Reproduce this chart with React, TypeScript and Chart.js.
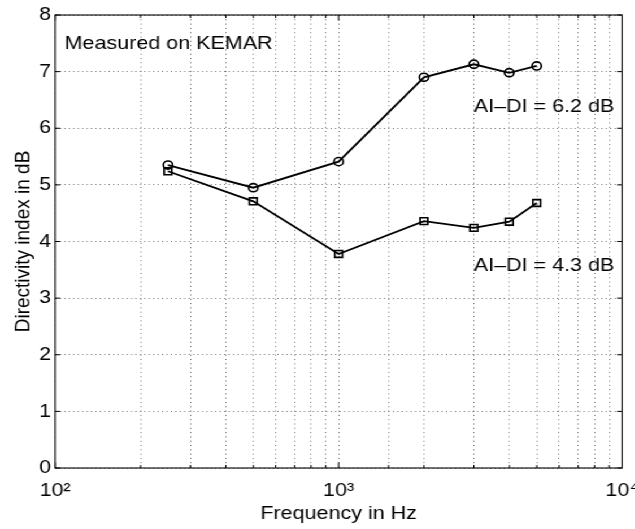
import React, { useEffect, useRef } from 'react';
import { Chart, registerables } from 'chart.js';

Chart.register(...registerables);

// ---- data ----
const frequencies = [250, 500, 1000, 2000, 3000, 4000, 5000];
const diCircle = [5.35, 4.95, 5.41, 6.9, 7.13, 6.98, 7.1];
const diSquare = [5.24, 4.71, 3.78, 4.36, 4.24, 4.35, 4.68];
const xTickLabels: Record<number, string> = { 100: '10²', 1000: '10³', 10000: '10⁴' };
const yMin = 0;
const yMax = 8;
const xMin = 100;
const xMax = 10000;
const annotationTexts = ['Measured on KEMAR', 'AI–DI = 6.2 dB', 'AI–DI = 4.3 dB'];
const annotationX = [108, 3000, 3000];
const annotationY = [7.5, 6.38, 3.57];

// ---- layout ----
const STRETCH = 1.13;
const W = 635 / STRETCH;
const H = 529;
const FONT = '"Liberation Sans", Arial, Helvetica, sans-serif';
const FS = 19;

const framePlugin = {
  id: 'matlabFrame',
  afterDraw(chart: any) {
    const { ctx, chartArea, scales } = chart;
    const { left, right, top, bottom } = chartArea;
    const xs = scales.x;
    const ys = scales.y;
    ctx.save();
    ctx.strokeStyle = '#000';
    ctx.lineWidth = 1;
    // inward ticks
    ctx.beginPath();
    xs.ticks.forEach((t: any) => {
      const v = t.value;
      const px = xs.getPixelForValue(v);
      const lg = Math.log10(v);
      const major = Math.abs(lg - Math.round(lg)) < 1e-6;
      const len = major ? 5.5 : 3;
      ctx.moveTo(px, bottom);
      ctx.lineTo(px, bottom - len);
      ctx.moveTo(px, top);
      ctx.lineTo(px, top + len);
    });
    ys.ticks.forEach((t: any) => {
      const py = ys.getPixelForValue(t.value);
      const len = 5 / STRETCH;
      ctx.moveTo(left, py);
      ctx.lineTo(left + len, py);
      ctx.moveTo(right, py);
      ctx.lineTo(right - len, py);
    });
    ctx.stroke();
    ctx.lineWidth = 1.1;
    ctx.strokeRect(left, top, right - left, bottom - top);
    // annotations
    ctx.fillStyle = '#000';
    ctx.font = `${FS}px ${FONT}`;
    ctx.textAlign = 'left';
    ctx.textBaseline = 'middle';
    annotationTexts.forEach((txt, i) => {
      ctx.fillText(txt, xs.getPixelForValue(annotationX[i]), ys.getPixelForValue(annotationY[i]));
    });
    ctx.restore();
  },
};

export default function App() {
  const ref = useRef<HTMLCanvasElement | null>(null);

  useEffect(() => {
    if (!ref.current) return;
    const markerCommon = {
      borderColor: '#000',
      borderWidth: 1.8,
      pointBorderColor: '#000',
      pointBackgroundColor: 'rgba(0,0,0,0)',
      pointBorderWidth: 1.6,
      tension: 0,
      fill: false,
    };
    const chart = new Chart(ref.current, {
      type: 'line',
      data: {
        datasets: [
          {
            ...markerCommon,
            label: 'circle',
            data: frequencies.map((f, i) => ({ x: f, y: diCircle[i] })),
            pointStyle: 'circle',
            pointRadius: 4.1,
          },
          {
            ...markerCommon,
            label: 'square',
            data: frequencies.map((f, i) => ({ x: f, y: diSquare[i] })),
            pointStyle: 'rect',
            pointRadius: 4.8,
          },
        ],
      },
      options: {
        animation: false,
        responsive: true,
        maintainAspectRatio: false,
        layout: { padding: { left: 0, right: W - 621 / STRETCH, top: 15, bottom: 0 } },
        plugins: {
          legend: { display: false },
          tooltip: { enabled: false },
        },
        scales: {
          x: {
            type: 'logarithmic',
            position: 'bottom',
            min: xMin,
            max: xMax,
            grid: {
              color: 'rgba(0,0,0,0.55)',
              lineWidth: 1,
              drawTicks: false,
            },
            border: { display: false, dash: [1, 3.3] },
            ticks: {
              autoSkip: false,
              maxRotation: 0,
              minRotation: 0,
              padding: 11,
              color: '#000',
              font: { family: FONT, size: FS },
              callback: (value: any) => {
                const v = Math.round(Number(value));
                return xTickLabels[v] ?? '';
              },
            },
            title: {
              display: true,
              text: 'Frequency in Hz',
              color: '#000',
              font: { family: FONT, size: FS },
              padding: { top: 0, bottom: 4 },
            },
            afterFit: (scale: any) => {
              scale.height = H - 468;
              scale.paddingLeft = 0;
              scale.paddingRight = 0;
            },
          },
          y: {
            type: 'linear',
            min: yMin,
            max: yMax,
            grid: {
              color: 'rgba(0,0,0,0.55)',
              lineWidth: 1,
              drawTicks: false,
            },
            border: { display: false, dash: [1, 3.3 / STRETCH] },
            ticks: {
              stepSize: 1,
              padding: 3.5,
              color: '#000',
              font: { family: FONT, size: FS },
            },
            title: {
              display: true,
              text: 'Directivity index in dB',
              color: '#000',
              font: { family: FONT, size: FS },
              padding: { top: 9, bottom: 0 },
            },
            afterFit: (scale: any) => {
              scale.width = 55 / STRETCH;
              scale.paddingTop = 0;
              scale.paddingBottom = 0;
            },
          },
        },
      },
      plugins: [framePlugin],
    } as any);
    return () => chart.destroy();
  }, []);

  return (
    <div
      style={{
        position: 'fixed',
        left: 0,
        top: 0,
        width: `${W}px`,
        height: `${H}px`,
        transform: `scaleX(${STRETCH})`,
        transformOrigin: '0 0',
        background: '#fff',
      }}
    >
      <canvas ref={ref} />
    </div>
  );
}
